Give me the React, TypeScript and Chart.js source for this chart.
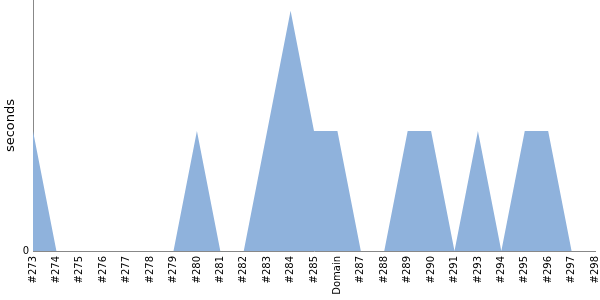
import React, { useEffect, useRef } from "react";
import { Chart, registerables } from "chart.js";

Chart.register(...registerables);

const categories = ["#273", "#274", "#275", "#276", "#277", "#278", "#279", "#280", "#281", "#282", "#283", "#284", "#285", "Domain", "#287", "#288", "#289", "#290", "#291", "#293", "#294", "#295", "#296", "#297", "#298"];
const seconds = [1, 0, 0, 0, 0, 0, 0, 1, 0, 0, 1, 2, 1, 1, 0, 0, 1, 1, 0, 1, 0, 1, 1, 0, 0];
const yTicks = [0];

export default function App() {
  const ref = useRef<HTMLCanvasElement>(null);
  useEffect(() => {
    if (!ref.current) return;
    const font = { family: "DejaVu Sans", size: 10 };
    const chart = new Chart(ref.current, {
      type: "line",
      data: {
        labels: categories,
        datasets: [
          {
            data: seconds,
            fill: "origin",
            backgroundColor: "#8fb2dc",
            borderWidth: 0,
            borderColor: "rgba(0,0,0,0)",
            pointRadius: 0,
            tension: 0,
          },
        ],
      },
      options: {
        animation: false,
        responsive: false,
        maintainAspectRatio: false,
        layout: { padding: { top: 0, right: 5, left: 0, bottom: 0 } },
        plugins: { legend: { display: false }, tooltip: { enabled: false } },
        scales: {
          x: {
            offset: false,
            grid: { display: false, drawTicks: false },
            border: { display: true, color: "#888888" },
            ticks: {
              autoSkip: false,
              minRotation: 90,
              maxRotation: 90,
              padding: 5,
              color: "#000",
              font,
            },
            afterFit: (s: any) => {
              s.height = 49;
              s.paddingLeft = 0;
              s.paddingRight = 0;
            },
          },
          y: {
            min: 0,
            max: 2.09,
            grid: { display: false, drawTicks: false },
            border: { display: true, color: "#888888" },
            afterBuildTicks: (s: any) => {
              s.ticks = yTicks.map((v) => ({ value: v }));
            },
            ticks: { color: "#000", font, padding: 4 },
            title: {
              display: true,
              text: "seconds",
              color: "#000",
              font: { family: "DejaVu Sans", size: 13 },
              padding: { top: 3, bottom: 0 },
            },
            afterFit: (s: any) => {
              s.width = 33;
              s.paddingTop = 0;
              s.paddingBottom = 0;
            },
          },
        },
      },
    });
    return () => chart.destroy();
  }, []);
  return (
    <div style={{ position: "fixed", left: 0, top: 0, width: 600, height: 300, background: "#fff" }}>
      <canvas ref={ref} width={600} height={300} />
    </div>
  );
}
